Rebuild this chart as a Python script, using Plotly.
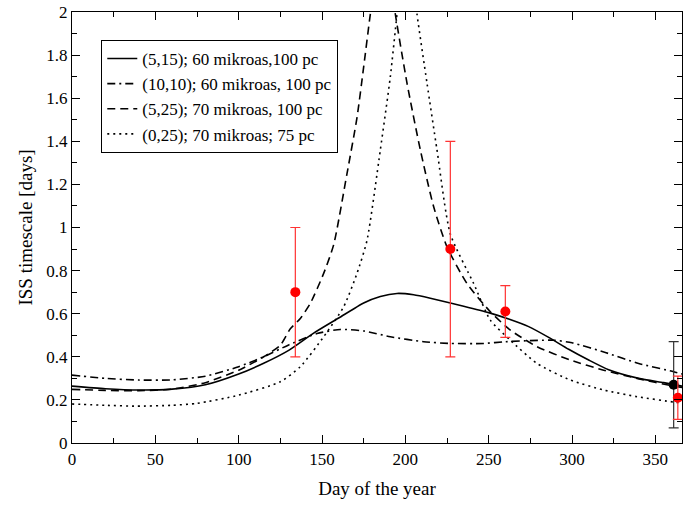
import plotly.graph_objects as go

# Model curves (day of year, ISS timescale in days)
days_a = [0, 20, 40, 60, 80, 100, 115, 130, 145, 160, 175, 185, 195, 205, 215, 235, 250, 262, 274, 286, 298, 310, 322, 340, 355, 366]
vals_a = [0.264, 0.252, 0.246, 0.25, 0.27, 0.32, 0.37, 0.43, 0.51, 0.58, 0.65, 0.68, 0.694, 0.688, 0.672, 0.635, 0.605, 0.575, 0.54, 0.49, 0.435, 0.385, 0.34, 0.30, 0.28, 0.264]

days_b = [0, 20, 40, 60, 80, 100, 115, 130, 147, 161, 175, 191, 211, 227, 247, 260, 289, 300, 320, 340, 361, 366]
vals_b = [0.315, 0.30, 0.292, 0.293, 0.31, 0.354, 0.40, 0.455, 0.508, 0.527, 0.52, 0.493, 0.47, 0.462, 0.462, 0.47, 0.477, 0.465, 0.42, 0.369, 0.331, 0.32]

days_c = [0, 20, 40, 60, 80, 100, 115, 125, 131, 137, 143, 151, 157, 165, 171, 175, 179, 183, 187, 190, 194, 201, 209, 217, 225, 237, 251, 263, 279, 299, 319, 339, 361, 366]
vals_c = [0.249, 0.244, 0.243, 0.25, 0.28, 0.338, 0.40, 0.454, 0.53, 0.578, 0.648, 0.787, 0.92, 1.25, 1.51, 1.745, 1.99, 2.2, 2.3, 2.2, 1.99, 1.67, 1.36, 1.096, 0.91, 0.74, 0.609, 0.524, 0.447, 0.385, 0.338, 0.30, 0.264, 0.258]

days_d = [0, 20, 39, 60, 75, 100, 125, 137, 151, 163, 171, 177, 185, 191, 195, 198, 201, 204, 207, 213, 219, 227, 241, 251, 263, 279, 299, 319, 339, 361, 366]
vals_d = [0.181, 0.175, 0.171, 0.175, 0.184, 0.222, 0.284, 0.354, 0.493, 0.632, 0.787, 0.94, 1.36, 1.70, 1.99, 2.2, 2.3, 2.2, 1.99, 1.67, 1.36, 0.97, 0.74, 0.57, 0.477, 0.369, 0.292, 0.246, 0.215, 0.19, 0.185]

labels = ["(5,15); 60 mikroas,100 pc",
          "(10,10); 60 mikroas, 100 pc",
          "(5,25); 70 mikroas, 100 pc",
          "(0,25); 70 mikroas; 75 pc"]
dashes = ["solid", "8px,4px,2px,4px", "8px,5px", "2px,4px"]

# Observations
obs_days = [134, 227, 260, 363.5]
obs_vals = [0.70, 0.90, 0.61, 0.21]
obs_err = [0.30, 0.50, 0.12, 0.10]

blk_days = [361]
blk_vals = [0.27]
blk_err = [0.20]

fig = go.Figure()
for d, v, lab, ds in zip([days_a, days_b, days_c, days_d],
                         [vals_a, vals_b, vals_c, vals_d], labels, dashes):
    fig.add_trace(go.Scatter(x=d, y=v, mode="lines", name=lab,
                             line=dict(color="black", width=1.6, dash=ds, shape="spline", smoothing=0.6)))

fig.add_trace(go.Scatter(x=blk_days, y=blk_vals, mode="markers", showlegend=False,
                         marker=dict(color="black", size=10),
                         error_y=dict(type="data", array=blk_err, color="#333333", thickness=1.2, width=5)))
fig.add_trace(go.Scatter(x=obs_days, y=obs_vals, mode="markers", showlegend=False,
                         marker=dict(color="red", size=10),
                         error_y=dict(type="data", array=obs_err, color="#ff3333", thickness=1.2, width=5)))

axis_common = dict(showline=True, linecolor="black", linewidth=1.2, mirror="ticks",
                   ticks="inside", ticklen=8, tickcolor="black", showgrid=False, zeroline=False,
                   tickfont=dict(family="Liberation Serif", size=17, color="black"))

fig.update_xaxes(range=[0, 366], dtick=50, tick0=0,
                 minor=dict(ticks="inside", ticklen=5, dtick=25, tick0=0, tickcolor="black"),
                 title=dict(text="Day of the year", font=dict(family="Liberation Serif", size=19, color="black"), standoff=14),
                 **axis_common)
fig.update_yaxes(range=[0, 2], dtick=0.2, tick0=0,
                 minor=dict(ticks="inside", ticklen=5, dtick=0.1, tick0=0, tickcolor="black"),
                 title=dict(text="ISS timescale [days]", font=dict(family="Liberation Serif", size=19, color="black"), standoff=8),
                 **axis_common)

fig.update_layout(
    width=683, height=507,
    margin=dict(l=72, r=1, t=12, b=64),
    plot_bgcolor="white", paper_bgcolor="white",
    font=dict(family="Liberation Serif", color="black"),
    legend=dict(x=0.048, y=0.935, xanchor="left", yanchor="top",
                bgcolor="white", bordercolor="black", borderwidth=1,
                font=dict(family="Liberation Serif", size=17, color="black"),
                tracegroupgap=0, itemwidth=30),
)

fig.write_html("out.html")
